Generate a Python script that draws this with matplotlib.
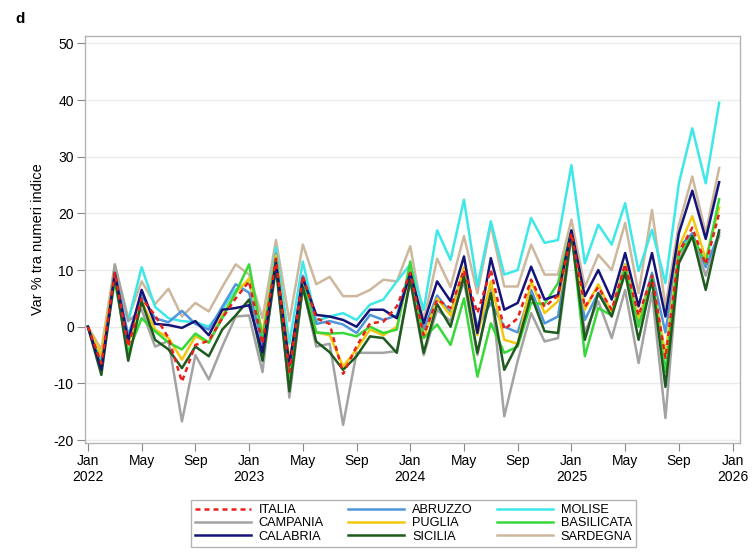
import numpy as np
import matplotlib.pyplot as plt

plt.rcParams["font.family"] = ["Liberation Sans", "DejaVu Sans"]
plt.rcParams["axes.unicode_minus"] = False

# monthly % change, Jan 2022 .. Dec 2025
italia = [0, -6.5, 9.5, -3.5, 5, 2, -2, -9.7, -3.2, -2.5, 1.5, 5,
          8, -3, 12, -8, 9, 1.5, 0.5, -8.3, -3.5, 0.6, 0.9, 3.6,
          9.5, -1.5, 4.8, 3.3, 10, 2.4, 10, -0.5, 1.5, 8.3, 3.5, 5.5,
          16.5, 3.5, 7, 3, 11, 2, 9, -5.5, 13, 17.5, 11, 20]
campania = [0, -7, 11, 1, 3, -3.5, -2.5, -16.7, -5, -9.3, -3.5, 1.8,
            2, -8, 13, -12.5, 7, -3.5, -3, -17.3, -4.6, -4.6, -4.6, -4.3,
            8, -5, 3, 1, 8, -5, 7, -15.8, -6, 2.4, -2.6, -2,
            16, -1, 4.5, -2, 6.5, -6.4, 6, -16.1, 12, 16, 9, 16]
calabria = [0, -7.5, 9.5, -2.5, 6.5, 0.5, 0.3, -0.2, 1, -1.5, 3, 3.3,
            3.8, -4.5, 11.5, -6.7, 8.6, 2.1, 1.8, 1.2, 0, 3, 3, 1.5,
            9.5, 0.6, 8, 4.5, 12.4, -1.1, 12.1, 3, 4.2, 10.6, 4.8, 5.6,
            17, 5.4, 10, 4.8, 13, 3.6, 13, 1.8, 16.5, 24, 15.5, 25.5]
abruzzo = [0, -6.5, 9.5, -1.5, 5.5, 1.5, 0.8, 2.8, 0.5, -0.5, 3.5, 7.5,
           6, -3, 12.5, -7, 9, 0.5, 1, 0.4, -1.1, 2.1, 1.2, 2,
           10, -0.5, 5.5, 2.5, 10, 0, 4.2, 0, -1, 6.5, 0.6, 1.8,
           16.5, 1.2, 6, 2.5, 11, 1, 9.5, -1, 14, 16.5, 10.5, 16.5]
puglia = [0, -5, 9.5, -3, 4.5, -0.5, -2, -5.8, -1.7, -2.8, 2, 6,
          8.5, -1, 12.5, -6, 8, -1, -1.5, -7, -4, -0.5, -1.5, 0,
          10, -2, 5, 2, 10.5, -1.5, 8, -2.3, -3, 8, 2.4, 4.5,
          16.5, 3, 7.5, 2.5, 11, 1.5, 8.5, -5, 14, 19.5, 12, 21]
sicilia = [0, -8.5, 9, -6, 4.5, -2.3, -4, -7.3, -3.5, -5.2, -0.5, 2,
           4.8, -6, 10.3, -11.4, 7, -2.6, -4.5, -7.6, -5.2, -1.7, -2, -4.6,
           8.3, -4.6, 4, 0, 8.9, -4.6, 5.9, -7.6, -3, 5.5, -0.8, -1.1,
           16.5, -2.3, 5.9, 1.8, 9.5, -2.3, 8.3, -10.6, 11.2, 16, 6.5, 17]
molise = [0, -6, 10, 1, 10.5, 3.5, 1.5, 1, 0.8, 0, 3, 6.5,
          8, -2, 14, -3, 11.5, 1, 1.8, 2.4, 1.2, 3.9, 4.8, 8,
          11, 3, 17, 11.8, 22.4, 7.1, 18.6, 9.2, 10, 19.2, 14.8, 15.3,
          28.5, 11.2, 18, 14.5, 21.8, 9.8, 17.1, 7.7, 25.3, 35, 25.3, 39.5]
basilicata = [0, -7, 8, -4.5, 1.5, -0.8, -2.8, -4, -1.2, -2.8, 1.5, 6,
              11, -2, 12, -9, 8, -1, -1.2, -1.1, -1.7, 0, -1.1, -0.5,
              11.5, -2, 0.4, -3.2, 5, -8.8, 0.6, -4.6, -3.5, 4.2, 4, 7.7,
              17, -5.2, 3.3, 2, 10.5, 0, 8.5, -8, 13, 16, 11.2, 22.5]
sardegna = [0, -4, 11, 1.5, 8, 4, 6.7, 1.8, 4.2, 2.7, 7, 11,
            9.2, 1.5, 15.3, 1, 14.5, 7.5, 8.8, 5.4, 5.4, 6.5, 8.3, 8,
            14.2, 1, 12, 7, 16, 5.9, 18, 7.1, 7.1, 14.5, 9.2, 9.2,
            18.9, 7, 12.7, 10, 18.3, 5.9, 20.6, 3.6, 18, 26.5, 16.5, 28]

months = np.arange(len(italia))
tick_pos = np.arange(0, 49, 4)
tick_labels = []
for k in tick_pos:
    m = ["Jan", "May", "Sep"][(k % 12) // 4]
    tick_labels.append(m + "\n" + str(2022 + k // 12) if m == "Jan" else m)

fig = plt.figure(figsize=(7.52, 5.53), dpi=100)
ax = fig.add_axes([0.113, 0.199, 0.871, 0.736])

series = [
    (sardegna, "SARDEGNA", "#cdb89e", "-"),
    (molise, "MOLISE", "#3ee8e8", "-"),
    (campania, "CAMPANIA", "#a3a3a3", "-"),
    (abruzzo, "ABRUZZO", "#4f96dc", "-"),
    (puglia, "PUGLIA", "#f2c80f", "-"),
    (basilicata, "BASILICATA", "#39d83a", "-"),
    (sicilia, "SICILIA", "#1f5a1f", "-"),
    (calabria, "CALABRIA", "#141478", "-"),
    (italia, "ITALIA", "#e8201c", (0, (2, 1.6))),
]
lines = {}
for vals, name, col, ls in series:
    h, = ax.plot(months, vals, color=col, linestyle=ls, linewidth=1.8, label=name)
    lines[name] = h

ax.set_xlim(-0.22, 48.55)
ax.set_ylim(-20.5, 51.3)
ax.set_yticks(np.arange(-20, 51, 10))
ax.set_xticks(tick_pos)
ax.set_xticklabels(tick_labels, fontsize=10)
ax.tick_params(axis="y", labelsize=10, length=6, color="#888888", pad=2)
ax.tick_params(axis="x", length=6, color="#888888", pad=2)
ax.yaxis.grid(True, color="#ebebeb", linewidth=1)
ax.set_axisbelow(True)
for s in ax.spines.values():
    s.set_color("#b4b4b4")
    s.set_linewidth(1)

ax.set_ylabel("Var % tra numeri indice", fontsize=10.5, labelpad=6)
fig.text(0.02, 0.965, "d", fontsize=11, fontweight="bold", ha="left", va="center")

order = ["ITALIA", "CAMPANIA", "CALABRIA", "ABRUZZO", "PUGLIA", "SICILIA",
         "MOLISE", "BASILICATA", "SARDEGNA"]
leg = fig.legend([lines[n] for n in order], order, ncol=3, loc="lower center",
                 bbox_to_anchor=(0.55, 0.0), fontsize=9.2, handlelength=4.4,
                 labelspacing=0.1, columnspacing=1.9, handletextpad=0.6,
                 borderpad=0.3, fancybox=False, edgecolor="#b4b4b4", framealpha=1)
leg.get_frame().set_linewidth(1)

fig.savefig("out.png", dpi=100)
